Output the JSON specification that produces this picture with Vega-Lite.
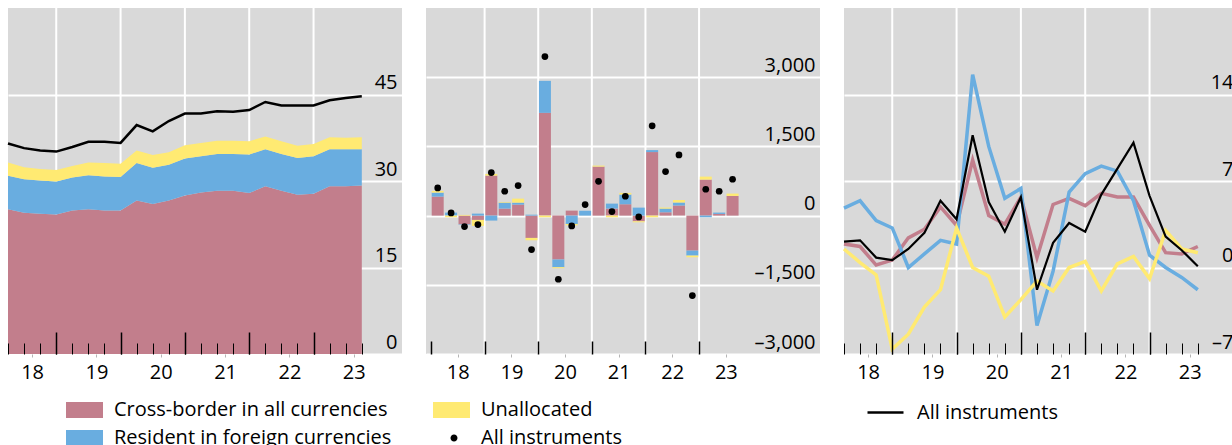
{
  "$schema": "https://vega.github.io/schema/vega-lite/v6.json",
  "padding": {"left": 3, "top": 7, "right": 0, "bottom": 0},
  "bounds": "flush",
  "spacing": 24,
  "config": {
    "font": "Open Sans",
    "view": {"fill": "#d9d9d9", "stroke": null},
    "axis": {"labelFont": "Open Sans", "labelFontSize": 20, "labelColor": "black", "title": null}
  },
  "datasets": {
    "yearEnds": [{"q":3},{"q":7},{"q":11},{"q":15},{"q":19}],
    "yearEndsBars": [{"q":3.5},{"q":7.5},{"q":11.5},{"q":15.5},{"q":19.5}],
    "stock": [
      {"q":0,"s":"Cross-border in all currencies","v":25.1},{"q":0,"s":"Resident in foreign currencies","v":5.8},{"q":0,"s":"Unallocated","v":2.3},
      {"q":1,"s":"Cross-border in all currencies","v":24.5},{"q":1,"s":"Resident in foreign currencies","v":5.8},{"q":1,"s":"Unallocated","v":2.1},
      {"q":2,"s":"Cross-border in all currencies","v":24.3},{"q":2,"s":"Resident in foreign currencies","v":5.8},{"q":2,"s":"Unallocated","v":2.0},
      {"q":3,"s":"Cross-border in all currencies","v":24.2},{"q":3,"s":"Resident in foreign currencies","v":5.7},{"q":3,"s":"Unallocated","v":2.0},
      {"q":4,"s":"Cross-border in all currencies","v":24.9},{"q":4,"s":"Resident in foreign currencies","v":5.7},{"q":4,"s":"Unallocated","v":2.0},
      {"q":5,"s":"Cross-border in all currencies","v":25.1},{"q":5,"s":"Resident in foreign currencies","v":5.9},{"q":5,"s":"Unallocated","v":2.2},
      {"q":6,"s":"Cross-border in all currencies","v":24.9},{"q":6,"s":"Resident in foreign currencies","v":5.9},{"q":6,"s":"Unallocated","v":2.3},
      {"q":7,"s":"Cross-border in all currencies","v":24.9},{"q":7,"s":"Resident in foreign currencies","v":5.8},{"q":7,"s":"Unallocated","v":2.3},
      {"q":8,"s":"Cross-border in all currencies","v":26.6},{"q":8,"s":"Resident in foreign currencies","v":6.5},{"q":8,"s":"Unallocated","v":2.2},
      {"q":9,"s":"Cross-border in all currencies","v":26.0},{"q":9,"s":"Resident in foreign currencies","v":6.3},{"q":9,"s":"Unallocated","v":2.2},
      {"q":10,"s":"Cross-border in all currencies","v":26.6},{"q":10,"s":"Resident in foreign currencies","v":6.2},{"q":10,"s":"Unallocated","v":2.2},
      {"q":11,"s":"Cross-border in all currencies","v":27.5},{"q":11,"s":"Resident in foreign currencies","v":6.4},{"q":11,"s":"Unallocated","v":2.3},
      {"q":12,"s":"Cross-border in all currencies","v":28.0},{"q":12,"s":"Resident in foreign currencies","v":6.3},{"q":12,"s":"Unallocated","v":2.3},
      {"q":13,"s":"Cross-border in all currencies","v":28.3},{"q":13,"s":"Resident in foreign currencies","v":6.4},{"q":13,"s":"Unallocated","v":2.3},
      {"q":14,"s":"Cross-border in all currencies","v":28.3},{"q":14,"s":"Resident in foreign currencies","v":6.4},{"q":14,"s":"Unallocated","v":2.3},
      {"q":15,"s":"Cross-border in all currencies","v":27.9},{"q":15,"s":"Resident in foreign currencies","v":6.7},{"q":15,"s":"Unallocated","v":2.3},
      {"q":16,"s":"Cross-border in all currencies","v":29.1},{"q":16,"s":"Resident in foreign currencies","v":6.4},{"q":16,"s":"Unallocated","v":2.2},
      {"q":17,"s":"Cross-border in all currencies","v":28.3},{"q":17,"s":"Resident in foreign currencies","v":6.4},{"q":17,"s":"Unallocated","v":2.2},
      {"q":18,"s":"Cross-border in all currencies","v":27.6},{"q":18,"s":"Resident in foreign currencies","v":6.4},{"q":18,"s":"Unallocated","v":2.1},
      {"q":19,"s":"Cross-border in all currencies","v":27.8},{"q":19,"s":"Resident in foreign currencies","v":6.5},{"q":19,"s":"Unallocated","v":2.1},
      {"q":20,"s":"Cross-border in all currencies","v":29.1},{"q":20,"s":"Resident in foreign currencies","v":6.4},{"q":20,"s":"Unallocated","v":2.1},
      {"q":21,"s":"Cross-border in all currencies","v":29.1},{"q":21,"s":"Resident in foreign currencies","v":6.4},{"q":21,"s":"Unallocated","v":2.0},
      {"q":22,"s":"Cross-border in all currencies","v":29.2},{"q":22,"s":"Resident in foreign currencies","v":6.3},{"q":22,"s":"Unallocated","v":2.1}
    ],
    "stockTotal": [
      {"q":0,"v":36.5},{"q":1,"v":35.7},{"q":2,"v":35.3},{"q":3,"v":35.1},{"q":4,"v":35.9},{"q":5,"v":36.8},
      {"q":6,"v":36.8},{"q":7,"v":36.6},{"q":8,"v":39.7},{"q":9,"v":38.6},{"q":10,"v":40.4},{"q":11,"v":41.7},
      {"q":12,"v":41.7},{"q":13,"v":42.1},{"q":14,"v":42.0},{"q":15,"v":42.3},{"q":16,"v":43.7},{"q":17,"v":43.1},
      {"q":18,"v":43.1},{"q":19,"v":43.1},{"q":20,"v":44.0},{"q":21,"v":44.4},{"q":22,"v":44.7}
    ],
    "flows": [
      {"q":0,"s":"Cross-border in all currencies","v":412},{"q":0,"s":"Resident in foreign currencies","v":87},{"q":0,"s":"Unallocated","v":36},
      {"q":1,"s":"Cross-border in all currencies","v":0},{"q":1,"s":"Resident in foreign currencies","v":65},{"q":1,"s":"Unallocated","v":-36},
      {"q":2,"s":"Cross-border in all currencies","v":-188},{"q":2,"s":"Resident in foreign currencies","v":-10},{"q":2,"s":"Unallocated","v":15},
      {"q":3,"s":"Cross-border in all currencies","v":-94},{"q":3,"s":"Resident in foreign currencies","v":43},{"q":3,"s":"Unallocated","v":-130},
      {"q":4,"s":"Cross-border in all currencies","v":867},{"q":4,"s":"Resident in foreign currencies","v":-108},{"q":4,"s":"Unallocated","v":36},
      {"q":5,"s":"Cross-border in all currencies","v":152},{"q":5,"s":"Resident in foreign currencies","v":130},{"q":5,"s":"Unallocated","v":14},
      {"q":6,"s":"Cross-border in all currencies","v":238},{"q":6,"s":"Resident in foreign currencies","v":43},{"q":6,"s":"Unallocated","v":87},
      {"q":7,"s":"Cross-border in all currencies","v":-484},{"q":7,"s":"Resident in foreign currencies","v":20},{"q":7,"s":"Unallocated","v":-51},
      {"q":8,"s":"Cross-border in all currencies","v":2227},{"q":8,"s":"Resident in foreign currencies","v":694},{"q":8,"s":"Unallocated","v":-36},
      {"q":9,"s":"Cross-border in all currencies","v":-954},{"q":9,"s":"Resident in foreign currencies","v":-166},{"q":9,"s":"Unallocated","v":-22},
      {"q":10,"s":"Cross-border in all currencies","v":108},{"q":10,"s":"Resident in foreign currencies","v":-181},{"q":10,"s":"Unallocated","v":-29},
      {"q":11,"s":"Cross-border in all currencies","v":0},{"q":11,"s":"Resident in foreign currencies","v":105},{"q":11,"s":"Unallocated","v":0},
      {"q":12,"s":"Cross-border in all currencies","v":1062},{"q":12,"s":"Resident in foreign currencies","v":0},{"q":12,"s":"Unallocated","v":22},
      {"q":13,"s":"Cross-border in all currencies","v":152},{"q":13,"s":"Resident in foreign currencies","v":108},{"q":13,"s":"Unallocated","v":-36},
      {"q":14,"s":"Cross-border in all currencies","v":246},{"q":14,"s":"Resident in foreign currencies","v":210},{"q":14,"s":"Unallocated","v":36},
      {"q":15,"s":"Cross-border in all currencies","v":-123},{"q":15,"s":"Resident in foreign currencies","v":173},{"q":15,"s":"Unallocated","v":-22},
      {"q":16,"s":"Cross-border in all currencies","v":1377},{"q":16,"s":"Resident in foreign currencies","v":43},{"q":16,"s":"Unallocated","v":-36},
      {"q":17,"s":"Cross-border in all currencies","v":72},{"q":17,"s":"Resident in foreign currencies","v":80},{"q":17,"s":"Unallocated","v":22},
      {"q":18,"s":"Cross-border in all currencies","v":217},{"q":18,"s":"Resident in foreign currencies","v":65},{"q":18,"s":"Unallocated","v":58},
      {"q":19,"s":"Cross-border in all currencies","v":-759},{"q":19,"s":"Resident in foreign currencies","v":-108},{"q":19,"s":"Unallocated","v":-36},
      {"q":20,"s":"Cross-border in all currencies","v":780},{"q":20,"s":"Resident in foreign currencies","v":-36},{"q":20,"s":"Unallocated","v":65},
      {"q":21,"s":"Cross-border in all currencies","v":36},{"q":21,"s":"Resident in foreign currencies","v":29},{"q":21,"s":"Unallocated","v":0},
      {"q":22,"s":"Cross-border in all currencies","v":426},{"q":22,"s":"Resident in foreign currencies","v":0},{"q":22,"s":"Unallocated","v":51}
    ],
    "flowTotal": [
      {"q":0,"v":600},{"q":1,"v":58},{"q":2,"v":-238},{"q":3,"v":-195},{"q":4,"v":932},{"q":5,"v":528},
      {"q":6,"v":650},{"q":7,"v":-737},{"q":8,"v":3447},{"q":9,"v":-1380},{"q":10,"v":-224},{"q":11,"v":238},
      {"q":12,"v":744},{"q":13,"v":87},{"q":14,"v":419},{"q":15,"v":-29},{"q":16,"v":1945},{"q":17,"v":954},
      {"q":18,"v":1316},{"q":19,"v":-1734},{"q":20,"v":571},{"q":21,"v":528},{"q":22,"v":788}
    ],
    "growth": [
      {"q":0,"s":"Cross-border in all currencies","v":1.9},{"q":0,"s":"Resident in foreign currencies","v":4.8},{"q":0,"s":"Unallocated","v":1.5},
      {"q":1,"s":"Cross-border in all currencies","v":1.7},{"q":1,"s":"Resident in foreign currencies","v":5.4},{"q":1,"s":"Unallocated","v":0.4},
      {"q":2,"s":"Cross-border in all currencies","v":0.2},{"q":2,"s":"Resident in foreign currencies","v":3.8},{"q":2,"s":"Unallocated","v":-0.6},
      {"q":3,"s":"Cross-border in all currencies","v":0.6},{"q":3,"s":"Resident in foreign currencies","v":3.2},{"q":3,"s":"Unallocated","v":-6.6},
      {"q":4,"s":"Cross-border in all currencies","v":2.4},{"q":4,"s":"Resident in foreign currencies","v":0.0},{"q":4,"s":"Unallocated","v":-5.4},
      {"q":5,"s":"Cross-border in all currencies","v":3.1},{"q":5,"s":"Resident in foreign currencies","v":1.1},{"q":5,"s":"Unallocated","v":-3.2},
      {"q":6,"s":"Cross-border in all currencies","v":4.9},{"q":6,"s":"Resident in foreign currencies","v":2.2},{"q":6,"s":"Unallocated","v":-1.8},
      {"q":7,"s":"Cross-border in all currencies","v":3.4},{"q":7,"s":"Resident in foreign currencies","v":1.9},{"q":7,"s":"Unallocated","v":3.2},
      {"q":8,"s":"Cross-border in all currencies","v":8.7},{"q":8,"s":"Resident in foreign currencies","v":15.6},{"q":8,"s":"Unallocated","v":0.0},
      {"q":9,"s":"Cross-border in all currencies","v":4.2},{"q":9,"s":"Resident in foreign currencies","v":9.8},{"q":9,"s":"Unallocated","v":-0.7},
      {"q":10,"s":"Cross-border in all currencies","v":3.5},{"q":10,"s":"Resident in foreign currencies","v":5.6},{"q":10,"s":"Unallocated","v":-4.0},
      {"q":11,"s":"Cross-border in all currencies","v":5.7},{"q":11,"s":"Resident in foreign currencies","v":6.4},{"q":11,"s":"Unallocated","v":-2.6},
      {"q":12,"s":"Cross-border in all currencies","v":0.8},{"q":12,"s":"Resident in foreign currencies","v":-4.7},{"q":12,"s":"Unallocated","v":-1.1},
      {"q":13,"s":"Cross-border in all currencies","v":5.1},{"q":13,"s":"Resident in foreign currencies","v":-0.3},{"q":13,"s":"Unallocated","v":-1.9},
      {"q":14,"s":"Cross-border in all currencies","v":5.6},{"q":14,"s":"Resident in foreign currencies","v":6.1},{"q":14,"s":"Unallocated","v":0.0},
      {"q":15,"s":"Cross-border in all currencies","v":5.0},{"q":15,"s":"Resident in foreign currencies","v":7.6},{"q":15,"s":"Unallocated","v":0.5},
      {"q":16,"s":"Cross-border in all currencies","v":6.0},{"q":16,"s":"Resident in foreign currencies","v":8.2},{"q":16,"s":"Unallocated","v":-1.9},
      {"q":17,"s":"Cross-border in all currencies","v":5.7},{"q":17,"s":"Resident in foreign currencies","v":7.8},{"q":17,"s":"Unallocated","v":0.3},
      {"q":18,"s":"Cross-border in all currencies","v":5.7},{"q":18,"s":"Resident in foreign currencies","v":5.4},{"q":18,"s":"Unallocated","v":0.9},
      {"q":19,"s":"Cross-border in all currencies","v":3.4},{"q":19,"s":"Resident in foreign currencies","v":1.0},{"q":19,"s":"Unallocated","v":-0.9},
      {"q":20,"s":"Cross-border in all currencies","v":1.2},{"q":20,"s":"Resident in foreign currencies","v":0.0},{"q":20,"s":"Unallocated","v":3.0},
      {"q":21,"s":"Cross-border in all currencies","v":1.1},{"q":21,"s":"Resident in foreign currencies","v":-0.8},{"q":21,"s":"Unallocated","v":1.5},
      {"q":22,"s":"Cross-border in all currencies","v":1.7},{"q":22,"s":"Resident in foreign currencies","v":-1.8},{"q":22,"s":"Unallocated","v":1.2}
    ],
    "growthTotal": [
      {"q":0,"s":"All instruments","v":2.1},{"q":1,"s":"All instruments","v":2.2},{"q":2,"s":"All instruments","v":0.8},
      {"q":3,"s":"All instruments","v":0.6},{"q":4,"s":"All instruments","v":1.5},{"q":5,"s":"All instruments","v":2.8},
      {"q":6,"s":"All instruments","v":5.4},{"q":7,"s":"All instruments","v":3.9},{"q":8,"s":"All instruments","v":10.7},
      {"q":9,"s":"All instruments","v":5.3},{"q":10,"s":"All instruments","v":2.9},{"q":11,"s":"All instruments","v":5.7},
      {"q":12,"s":"All instruments","v":-1.8},{"q":13,"s":"All instruments","v":2.0},{"q":14,"s":"All instruments","v":3.6},
      {"q":15,"s":"All instruments","v":2.9},{"q":16,"s":"All instruments","v":5.9},{"q":17,"s":"All instruments","v":8.0},
      {"q":18,"s":"All instruments","v":10.1},{"q":19,"s":"All instruments","v":5.8},{"q":20,"s":"All instruments","v":2.5},
      {"q":21,"s":"All instruments","v":1.4},{"q":22,"s":"All instruments","v":0.1}
    ]
  },
  "resolve": {"scale": {"color": "independent"}, "legend": {"color": "independent"}},
  "hconcat": [
    {
      "width": 394,
      "height": 346,
      "resolve": {"axis": {"x": "independent"}},
      "layer": [
        {
          "data": {"name": "yearEnds"},
          "mark": {"type": "rule", "color": "white", "strokeWidth": 2},
          "encoding": {
            "x": {
              "field": "q", "type": "quantitative",
              "scale": {"domain": [0, 24.5], "nice": false, "zero": false},
              "axis": {
                "orient": "bottom", "title": null, "values": [3, 7, 11, 15, 19],
                "domain": false, "grid": false, "labels": false,
                "tickSize": -22, "tickWidth": 1.5, "tickColor": "black", "zindex": 1
              }
            }
          }
        },
        {
          "data": {"name": "stock"},
          "mark": {"type": "area", "opacity": 1},
          "encoding": {
            "x": {
              "field": "q", "type": "quantitative",
              "axis": {
                "orient": "bottom", "title": null, "values": [1.5, 5.5, 9.5, 13.5, 17.5, 21.5],
                "domain": false, "grid": false,
                "tickSize": 3, "tickWidth": 1, "tickColor": "#b5b5b5",
                "labelExpr": "'' + (18 + floor(datum.value / 4))",
                "labelPadding": 21, "labelBaseline": "alphabetic",
                "labelOverlap": false, "labelFlush": false, "labelBound": false, "zindex": 1
              }
            },
            "y": {
              "field": "v", "type": "quantitative", "stack": "zero",
              "scale": {"domain": [0, 60], "nice": false},
              "axis": {
                "orient": "right", "title": null, "values": [0, 15, 30, 45],
                "ticks": false, "domain": false,
                "grid": true, "gridColor": "white", "gridWidth": 2,
                "labelAlign": "right", "labelBaseline": "alphabetic",
                "labelPadding": -5, "labelOffset": -6
              }
            },
            "color": {
              "field": "s", "type": "nominal",
              "scale": {
                "domain": ["Cross-border in all currencies", "Resident in foreign currencies", "Unallocated", "All instruments"],
                "range": ["#c27e8c", "#69ade0", "#ffea72", "#000000"]
              },
              "legend": {
                "orient": "none", "legendX": 58, "legendY": 392,
                "columns": 2, "columnPadding": 41, "rowPadding": 8,
                "title": null, "padding": 0,
                "symbolType": "M-1,-0.8H2.7V0.8H-1Z", "symbolSize": 400,
                "symbolStrokeWidth": 0, "symbolOpacity": 1,
                "labelFont": "Open Sans", "labelFontSize": 20, "labelColor": "black",
                "labelOffset": 28, "labelLimit": 600,
                "encode": {
                  "symbols": {
                    "update": {
                      "shape": {"signal": "datum.value === 'All instruments' ? 'M1.45,0A0.35,0.35,0,1,1,0.75,0A0.35,0.35,0,1,1,1.45,0Z' : 'M-1,-0.8H2.7V0.8H-1Z'"}
                    }
                  }
                }
              }
            },
            "order": {"field": "s", "type": "ordinal", "sort": "ascending"}
          }
        },
        {
          "data": {"name": "stockTotal"},
          "mark": {"type": "line", "color": "black", "strokeWidth": 2.5},
          "encoding": {
            "x": {
              "field": "q", "type": "quantitative",
              "axis": {
                "orient": "bottom", "title": null,
                "values": [0,1,2,3,4,5,6,7,8,9,10,11,12,13,14,15,16,17,18,19,20,21,22],
                "domain": false, "grid": false, "labels": false,
                "tickSize": -11, "tickWidth": 1, "tickColor": "black", "zindex": 1
              }
            },
            "y": {"field": "v", "type": "quantitative"}
          }
        }
      ]
    },
    {
      "width": 394,
      "height": 346,
      "resolve": {"axis": {"x": "independent"}},
      "layer": [
        {
          "data": {"name": "yearEndsBars"},
          "mark": {"type": "rule", "color": "white", "strokeWidth": 2},
          "encoding": {
            "x": {
              "field": "q", "type": "quantitative",
              "scale": {"domain": [-0.5, 28.15], "nice": false, "zero": false},
              "axis": {
                "orient": "bottom", "title": null, "values": [-0.5, 3.5, 7.5, 11.5, 15.5, 19.5],
                "domain": false, "grid": false, "labels": false,
                "tickSize": -13, "tickWidth": 1.5, "tickColor": "black", "zindex": 1
              }
            }
          }
        },
        {
          "data": {"name": "flows"},
          "mark": {"type": "bar", "size": 12},
          "encoding": {
            "x": {
              "field": "q", "type": "quantitative",
              "axis": {
                "orient": "bottom", "title": null, "values": [1.5, 5.5, 9.5, 13.5, 17.5, 21.5],
                "domain": false, "grid": false,
                "tickSize": 3, "tickWidth": 1, "tickColor": "#b5b5b5",
                "labelExpr": "'' + (18 + floor(datum.value / 4))",
                "labelPadding": 21, "labelBaseline": "alphabetic",
                "labelOverlap": false, "labelFlush": false, "labelBound": false, "zindex": 1
              }
            },
            "y": {
              "field": "v", "type": "quantitative", "stack": "zero",
              "scale": {"domain": [-3000, 4500], "nice": false},
              "axis": {
                "orient": "right", "title": null, "values": [-3000, -1500, 0, 1500, 3000],
                "ticks": false, "domain": false,
                "grid": true, "gridColor": "white", "gridWidth": 2,
                "labelAlign": "right", "labelBaseline": "alphabetic",
                "labelPadding": -5, "labelOffset": -6,
                "labelExpr": "(datum.value < 0 ? '–' : '') + format(abs(datum.value), ',')"
              }
            },
            "color": {
              "field": "s", "type": "nominal",
              "scale": {
                "domain": ["Cross-border in all currencies", "Resident in foreign currencies", "Unallocated", "All instruments"],
                "range": ["#c27e8c", "#69ade0", "#ffea72", "#000000"]
              },
              "legend": null
            },
            "order": {"field": "s", "type": "ordinal", "sort": "ascending"}
          }
        },
        {
          "mark": {"type": "rule", "color": "black", "strokeWidth": 2},
          "encoding": {"y": {"datum": 0}}
        },
        {
          "data": {"name": "flowTotal"},
          "mark": {"type": "point", "filled": true, "color": "black", "size": 45, "opacity": 1},
          "encoding": {
            "x": {"field": "q", "type": "quantitative", "axis": null},
            "y": {"field": "v", "type": "quantitative"}
          }
        }
      ]
    },
    {
      "width": 394,
      "height": 346,
      "resolve": {"axis": {"x": "independent"}},
      "layer": [
        {
          "data": {"name": "yearEnds"},
          "mark": {"type": "rule", "color": "white", "strokeWidth": 2},
          "encoding": {
            "x": {
              "field": "q", "type": "quantitative",
              "scale": {"domain": [0, 24.5], "nice": false, "zero": false},
              "axis": {
                "orient": "bottom", "title": null, "values": [3, 7, 11, 15, 19],
                "domain": false, "grid": false, "labels": false,
                "tickSize": -22, "tickWidth": 1.5, "tickColor": "black", "zindex": 1
              }
            }
          }
        },
        {
          "mark": {"type": "rule", "color": "#3a3a3a", "strokeWidth": 1.5},
          "encoding": {"y": {"datum": 0, "type": "quantitative", "scale": {"domain": [-7, 21], "nice": false}}}
        },
        {
          "data": {"name": "growth"},
          "mark": {"type": "line", "strokeWidth": 3.5},
          "encoding": {
            "x": {
              "field": "q", "type": "quantitative",
              "axis": {
                "orient": "bottom", "title": null, "values": [1.5, 5.5, 9.5, 13.5, 17.5, 21.5],
                "domain": false, "grid": false,
                "tickSize": 3, "tickWidth": 1, "tickColor": "#b5b5b5",
                "labelExpr": "'' + (18 + floor(datum.value / 4))",
                "labelPadding": 21, "labelBaseline": "alphabetic",
                "labelOverlap": false, "labelFlush": false, "labelBound": false, "zindex": 1
              }
            },
            "y": {
              "field": "v", "type": "quantitative",
              "axis": {
                "orient": "right", "title": null, "values": [-7, 0, 7, 14],
                "ticks": false, "domain": false,
                "grid": true, "gridColor": "white", "gridWidth": 2,
                "labelAlign": "right", "labelBaseline": "alphabetic",
                "labelPadding": -5, "labelOffset": -6,
                "labelExpr": "(datum.value < 0 ? '–' : '') + abs(datum.value)"
              }
            },
            "color": {
              "field": "s", "type": "nominal",
              "scale": {
                "domain": ["Cross-border in all currencies", "Resident in foreign currencies", "Unallocated", "All instruments"],
                "range": ["#c27e8c", "#69ade0", "#ffea72", "#000000"]
              },
              "legend": {
                "orient": "none", "legendX": 22, "legendY": 385,
                "values": ["All instruments"],
                "title": null, "padding": 0,
                "symbolType": "stroke", "symbolSize": 1296, "symbolStrokeWidth": 2.5,
                "labelFont": "Open Sans", "labelFontSize": 20, "labelColor": "black",
                "labelOffset": 12, "labelLimit": 600
              }
            }
          }
        },
        {
          "data": {"name": "growthTotal"},
          "mark": {"type": "line", "strokeWidth": 2.2},
          "encoding": {
            "x": {
              "field": "q", "type": "quantitative",
              "axis": {
                "orient": "bottom", "title": null,
                "values": [0,1,2,3,4,5,6,7,8,9,10,11,12,13,14,15,16,17,18,19,20,21,22],
                "domain": false, "grid": false, "labels": false,
                "tickSize": -11, "tickWidth": 1, "tickColor": "black", "zindex": 1
              }
            },
            "y": {"field": "v", "type": "quantitative"},
            "color": {"field": "s", "type": "nominal"}
          }
        }
      ]
    }
  ]
}
